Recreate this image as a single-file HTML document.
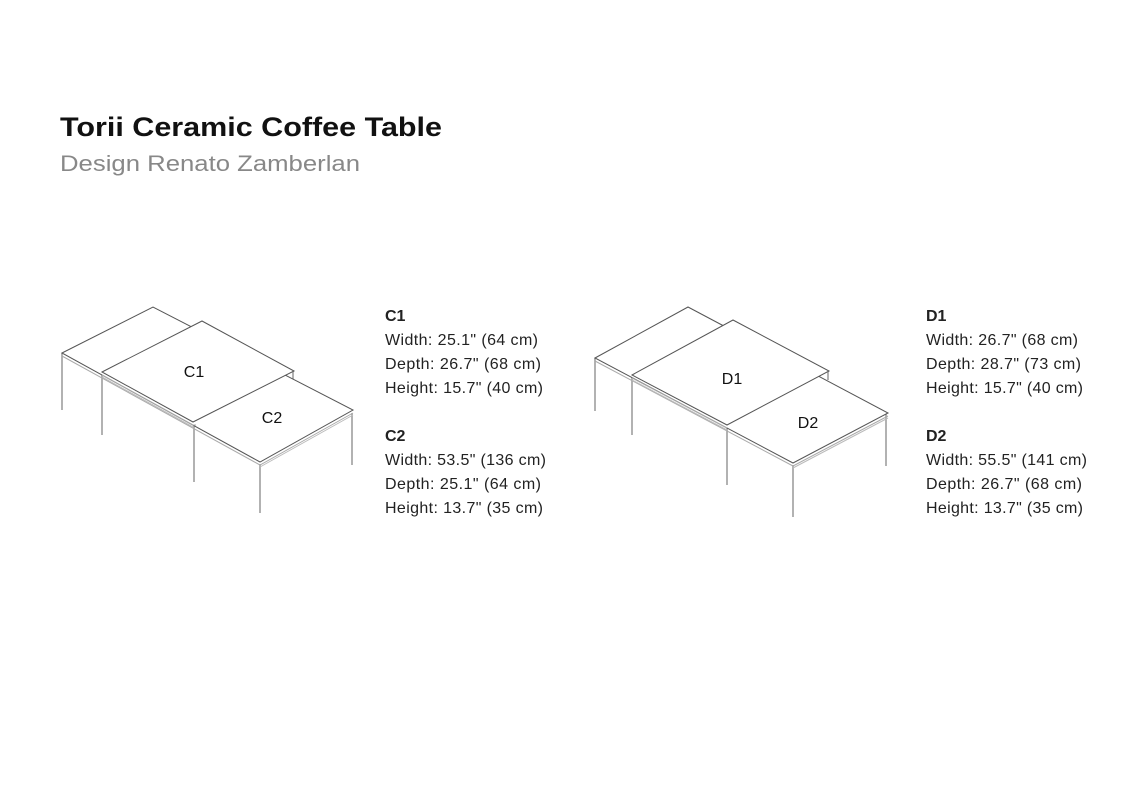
<!DOCTYPE html>
<html><head><meta charset="utf-8"><style>
html,body{margin:0;padding:0;background:#fff;width:1136px;height:800px;overflow:hidden}
svg{display:block}
text{font-family:"Liberation Sans",sans-serif}
</style></head><body>
<svg width="1136" height="800" viewBox="0 0 1136 800">
<text x="60" y="136" font-size="27" font-weight="bold" fill="#111" textLength="382" lengthAdjust="spacingAndGlyphs">Torii Ceramic Coffee Table</text>
<text x="60" y="171" font-size="22" fill="#888" textLength="300" lengthAdjust="spacingAndGlyphs">Design Renato Zamberlan</text>

<g stroke="#555" stroke-width="1" fill="#fff">
<g stroke="#999" stroke-width="1.5"><line x1="62" y1="353" x2="62" y2="410"/><line x1="102" y1="374" x2="102" y2="435"/><line x1="194" y1="424" x2="194" y2="482"/><line x1="260" y1="464" x2="260" y2="513"/><line x1="352" y1="413" x2="352" y2="465"/><line x1="293" y1="371" x2="293" y2="380"/></g>
<polygon points="62,353 153,307 353,410 260,462"/>
<polyline points="62,356 260,465 353,413" fill="none" stroke="#aaa"/>
<polygon points="102,372 202,321 294,371 193,422"/>
<polyline points="102,375 193,425 196,425" fill="none" stroke="#aaa"/>
<polyline points="102,377 193,427" fill="none" stroke="#bbb"/>
<polyline points="260,467 353,415" fill="none" stroke="#bbb"/>
<g stroke="#999" stroke-width="1.5"><line x1="595" y1="358" x2="595" y2="411"/><line x1="632" y1="377" x2="632" y2="435"/><line x1="727" y1="427" x2="727" y2="485"/><line x1="793" y1="465" x2="793" y2="517"/><line x1="886" y1="414" x2="886" y2="466"/><line x1="828" y1="371" x2="828" y2="380"/></g>
<polygon points="595,358 688,307 888,413 793,463"/>
<polyline points="595,361 793,466 888,416" fill="none" stroke="#aaa"/>
<polygon points="632,375 733,320 829,371 727,425"/>
<polyline points="632,378 727,428" fill="none" stroke="#aaa"/>
<polyline points="632,380 727,430" fill="none" stroke="#bbb"/>
<polyline points="793,468 888,418" fill="none" stroke="#bbb"/>
</g>
<g font-size="16" fill="#111" text-anchor="middle">
<text x="194" y="377">C1</text><text x="272" y="423">C2</text>
<text x="732" y="384">D1</text><text x="808" y="428">D2</text>
</g>

<g font-size="16" fill="#222" lengthAdjust="spacingAndGlyphs">
<text x="385" y="321" font-weight="bold">C1</text>
<text x="385" y="345" textLength="153">Width: 25.1" (64 cm)</text>
<text x="385" y="369" textLength="156">Depth: 26.7" (68 cm)</text>
<text x="385" y="393" textLength="158">Height: 15.7" (40 cm)</text>
<text x="385" y="441" font-weight="bold">C2</text>
<text x="385" y="465" textLength="161">Width: 53.5" (136 cm)</text>
<text x="385" y="489" textLength="156">Depth: 25.1" (64 cm)</text>
<text x="385" y="513" textLength="158">Height: 13.7" (35 cm)</text>
<text x="926" y="321" font-weight="bold">D1</text>
<text x="926" y="345" textLength="152">Width: 26.7" (68 cm)</text>
<text x="926" y="369" textLength="155">Depth: 28.7" (73 cm)</text>
<text x="926" y="393" textLength="157">Height: 15.7" (40 cm)</text>
<text x="926" y="441" font-weight="bold">D2</text>
<text x="926" y="465" textLength="161">Width: 55.5" (141 cm)</text>
<text x="926" y="489" textLength="156">Depth: 26.7" (68 cm)</text>
<text x="926" y="513" textLength="157">Height: 13.7" (35 cm)</text>
</g>
</svg>
</body></html>
